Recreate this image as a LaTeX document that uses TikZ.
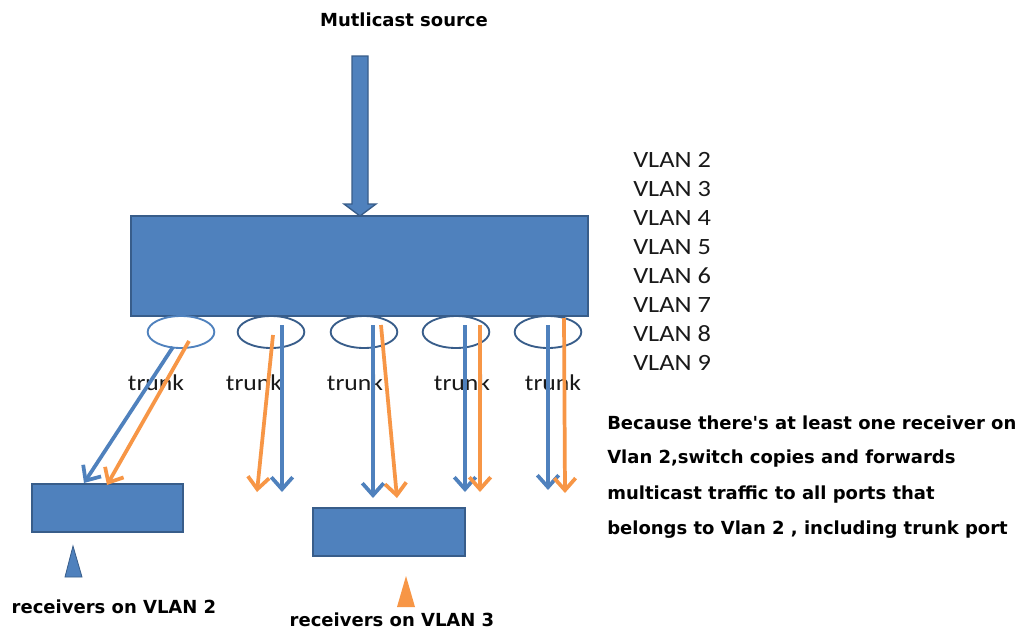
\documentclass[tikz,border=0pt]{standalone}
\usepackage{fontspec}
\setmainfont{Carlito}
\newfontfamily\boldsans{DejaVu Sans}
\usetikzlibrary{arrows.meta,shapes.geometric}
\definecolor{pblue}{HTML}{4F81BD}
\definecolor{pdark}{HTML}{385D8A}
\definecolor{porange}{HTML}{F79646}
\tikzset{
  box/.style={rectangle, fill=pblue, draw=pdark, line width=1pt, inner sep=0pt},
  port/.style={ellipse, fill=white, draw=pdark, line width=1.4pt, minimum width=50pt, minimum height=24pt, inner sep=0pt},
  trunklbl/.style={font=\fontsize{17}{20}\selectfont, text=black!90, inner sep=0pt},
  vlanlbl/.style={font=\fontsize{17.5}{20}\selectfont, text=black!90, inner sep=0pt, anchor=west},
  boldlbl/.style={font=\boldsans\bfseries\fontsize{13.5}{16}\selectfont, inner sep=0pt},
  flowb/.style={draw=pblue, line width=2.8pt, -{Straight Barb[length=9pt,width=16pt]}},
  flowo/.style={draw=porange, line width=2.8pt, -{Straight Barb[length=9pt,width=16pt]}},
}
\begin{document}
\begin{tikzpicture}[x=0.75pt,y=-0.75pt]
\useasboundingbox[fill=white] (0,0) rectangle (1024,632);

% title and source arrow
\node[boldlbl] (title) at (404,20) {Mutlicast source};
\draw[fill=pblue, draw=pdark, line width=1pt] (352,56) -- (368,56) -- (368,204) -- (376,204) -- (360,216) -- (344,204) -- (352,204) -- cycle;

% switch
\node[box, minimum width=342.75pt, minimum height=75pt] (switch) at (359.5,266) {};

% ports
\node[port, draw=pblue] (p1) at (181,332) {};
\node[port] (p2) at (271,332) {};
\node[port] (p3) at (364,332) {};
\node[port] (p4) at (456,332) {};
\node[port] (p5) at (548,332) {};

% trunk labels
\node[trunklbl] (t1) at (156,383) {\scalebox{1.13}[1]{trunk}};
\node[trunklbl] (t2) at (254,383) {\scalebox{1.13}[1]{trunk}};
\node[trunklbl] (t3) at (355,383) {\scalebox{1.13}[1]{trunk}};
\node[trunklbl] (t4) at (462,383) {\scalebox{1.13}[1]{trunk}};
\node[trunklbl] (t5) at (553,383) {\scalebox{1.13}[1]{trunk}};

% VLAN list
\foreach \v [count=\i from 0] in {2,...,9}
  \node[vlanlbl] (vlan\v) at (633,160+29*\i) {\scalebox{1.13}[1]{VLAN \v}};

% receivers
\node[box, minimum width=113.25pt, minimum height=36pt] (r1) at (107.5,508) {};
\node[box, minimum width=114pt, minimum height=36pt] (r2) at (389,532) {};
\fill[pblue, draw=pdark, line width=0.6pt] (73,546) -- (82,577) -- (65,577) -- cycle;
\fill[porange] (406,576) -- (415,607) -- (397,607) -- cycle;
\node[boldlbl] (rl1) at (114,607) {receivers on VLAN 2};
\node[boldlbl] (rl2) at (392,620) {receivers on VLAN 3};

% flow coordinates
\coordinate (a1bs) at (173,347); \coordinate (a1be) at (84,483);
\coordinate (a1os) at (189,341); \coordinate (a1oe) at (107,485);
\coordinate (a2os) at (273,335); \coordinate (a2oe) at (257,492);
\coordinate (a2bs) at (282,325); \coordinate (a2be) at (282,492);
\coordinate (a3bs) at (373,325); \coordinate (a3be) at (373,498);
\coordinate (a3os) at (381,325); \coordinate (a3oe) at (397,498);
\coordinate (a4bs) at (465,325); \coordinate (a4be) at (465,492);
\coordinate (a4os) at (480,325); \coordinate (a4oe) at (480,492);
\coordinate (a5bs) at (548,325); \coordinate (a5be) at (548,490);
\coordinate (a5os) at (564,318); \coordinate (a5oe) at (565,493);

\draw[flowb] (a1bs) -- (a1be);
\draw[flowo] (a1os) -- (a1oe);
\draw[flowo] (a2os) -- (a2oe);
\draw[flowb] (a2bs) -- (a2be);
\draw[flowb] (a3bs) -- (a3be);
\draw[flowo] (a3os) -- (a3oe);
\draw[flowb] (a4bs) -- (a4be);
\draw[flowo] (a4os) -- (a4oe);
\draw[flowb] (a5bs) -- (a5be);
\draw[flowo] (a5os) -- (a5oe);

% explanation
\node[boldlbl, anchor=west] (e1) at (607,423) {Because there's at least one receiver on};
\node[boldlbl, anchor=west] (e2) at (607,459) {Vlan 2,switch copies and forwards};
\node[boldlbl, anchor=west] (e3) at (607,495) {multicast traffic to all ports that};
\node[boldlbl, anchor=west] (e4) at (607,530) {belongs to Vlan 2 , including trunk port};
\end{tikzpicture}
\end{document}
